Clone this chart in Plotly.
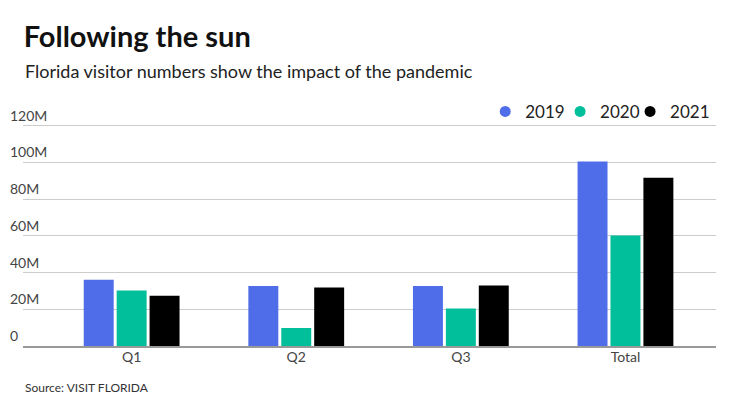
import plotly.graph_objects as go

quarters = ["Q1", "Q2", "Q3", "Total"]
years = ["2019", "2020", "2021"]
visitors_2019 = [36.0e6, 32.7e6, 32.7e6, 100.5e6]
visitors_2020 = [30.2e6, 9.8e6, 20.4e6, 60.2e6]
visitors_2021 = [27.4e6, 31.8e6, 32.9e6, 91.6e6]
y_ticks = [0, 20e6, 40e6, 60e6, 80e6, 100e6, 120e6]

colors = ["#4f6de8", "#00bf9a", "#000000"]
series = [visitors_2019, visitors_2020, visitors_2021]
legend_ids = ["legend", "legend2", "legend3"]
legend_x = [0.667, 0.775, 0.876]

fig = go.Figure()
for year, vals, col in zip(years, series, colors):
    fig.add_trace(go.Bar(x=quarters, y=vals, name=year, marker_color=col,
                         marker_line_width=0, showlegend=False))
# circle markers for the legend, one small legend per year
for year, col, lid in zip(years, colors, legend_ids):
    fig.add_trace(go.Scatter(x=[None], y=[None], mode="markers", name=year,
                             legend=lid,
                             marker=dict(color=col, size=11, symbol="circle")))

fig.update_layout(
    width=740, height=416,
    margin=dict(l=23, r=24, t=98, b=70),
    plot_bgcolor="white", paper_bgcolor="white",
    font=dict(family="Lato", color="#333333", size=14),
    barmode="group", bargap=0.4, bargroupgap=0.09,
    title=dict(text="<b>Following the sun</b>", x=0.032, xanchor="left",
               y=0.936, yanchor="top", font=dict(size=29, color="#111111")),
)
for lid, lx in zip(legend_ids, legend_x):
    fig.update_layout({lid: dict(orientation="h", x=lx, xanchor="left", y=0.944,
                                 yanchor="middle", font=dict(size=17, color="#222222"),
                                 itemwidth=30, bgcolor="rgba(0,0,0,0)")})
fig.add_annotation(text="Florida visitor numbers show the impact of the pandemic",
                   xref="paper", yref="paper", x=0.0, y=1.109, xanchor="left",
                   yanchor="middle", showarrow=False,
                   font=dict(size=18, color="#222222"))
fig.add_annotation(text="Source: VISIT FLORIDA", xref="paper", yref="paper",
                   x=0.0, y=-0.169, xanchor="left", yanchor="middle",
                   showarrow=False, font=dict(size=12, color="#333333"))

fig.update_xaxes(range=[-0.66, 3.55], showline=True, linecolor="#999999",
                 linewidth=1.5, ticks="", automargin=False, ticklabelstandoff=-3,
                 tickfont=dict(size=14, color="#444444"))
fig.update_yaxes(range=[0, 135e6], tickvals=y_ticks, tickformat="~s",
                 showgrid=True, gridcolor="#cccccc", gridwidth=1, automargin=False,
                 zeroline=False, ticklabelposition="inside top",
                 ticklabelstandoff=-16, tickfont=dict(size=14, color="#444444"))

fig.write_html("out.html", config={"displayModeBar": False},
               post_script="document.body.style.margin = '0';")
